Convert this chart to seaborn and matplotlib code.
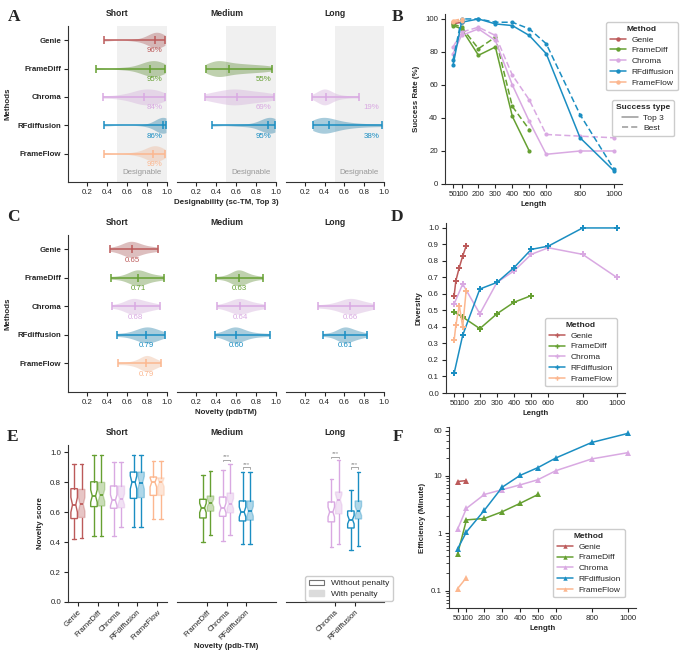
import matplotlib
matplotlib.use('Agg')
import numpy as np
import pandas as pd
import matplotlib.pyplot as plt
from matplotlib.lines import Line2D
from matplotlib.patches import Patch
from matplotlib.ticker import NullFormatter
import seaborn as sns

sns.set_theme(style='ticks')
plt.rcParams['font.family'] = ['Liberation Sans', 'DejaVu Sans']
plt.rcParams['axes.linewidth'] = 0.8

FS = 5.7    # ticks / labels
TFS = 6.2   # facet titles

# ---------------- data ----------------
methods = ['Genie', 'FrameDiff', 'Chroma', 'RFdiffusion', 'FrameFlow']
colors = {'Genie': '#BC5A5A', 'FrameDiff': '#66A032', 'Chroma': '#D9A9E2',
          'RFdiffusion': '#1B8EC2', 'FrameFlow': '#FCB78F'}
groups = ['Short', 'Medium', 'Long']

# A: designability (sc-TM, top 3) samples per group
desig_short = {
    'Genie': [0.37, 0.70, 0.79, 0.83, 0.85, 0.86, 0.87, 0.88, 0.90, 0.91, 0.92, 0.93, 0.94, 0.96, 0.98],
    'FrameDiff': [0.29, 0.55, 0.68, 0.74, 0.78, 0.80, 0.82, 0.83, 0.86, 0.88, 0.90, 0.91, 0.93, 0.95, 0.98],
    'Chroma': [0.36, 0.52, 0.60, 0.66, 0.70, 0.73, 0.75, 0.77, 0.80, 0.83, 0.86, 0.88, 0.91, 0.94, 0.98],
    'RFdiffusion': [0.37, 0.80, 0.88, 0.92, 0.94, 0.95, 0.955, 0.96, 0.965, 0.97, 0.97, 0.975, 0.98, 0.985, 0.99],
    'FrameFlow': [0.37, 0.66, 0.75, 0.79, 0.82, 0.84, 0.85, 0.86, 0.88, 0.89, 0.90, 0.92, 0.93, 0.95, 0.98],
}
desig_medium = {
    'FrameDiff': [0.30, 0.36, 0.39, 0.41, 0.42, 0.44, 0.47, 0.53, 0.58, 0.63, 0.68, 0.74, 0.81, 0.88, 0.96],
    'Chroma': [0.29, 0.36, 0.42, 0.47, 0.51, 0.55, 0.58, 0.61, 0.65, 0.69, 0.74, 0.79, 0.85, 0.91, 0.98],
    'RFdiffusion': [0.36, 0.62, 0.75, 0.83, 0.87, 0.89, 0.91, 0.92, 0.94, 0.95, 0.96, 0.97, 0.975, 0.98, 0.99],
}
desig_long = {
    'Chroma': [0.27, 0.32, 0.35, 0.37, 0.38, 0.39, 0.40, 0.41, 0.42, 0.44, 0.46, 0.49, 0.54, 0.62, 0.75],
    'RFdiffusion': [0.28, 0.31, 0.34, 0.36, 0.37, 0.39, 0.41, 0.44, 0.47, 0.51, 0.56, 0.62, 0.70, 0.82, 0.98],
}
rate_short = {'Genie': 96, 'FrameDiff': 95, 'Chroma': 84, 'RFdiffusion': 86, 'FrameFlow': 99}
rate_medium = {'FrameDiff': 55, 'Chroma': 69, 'RFdiffusion': 95}
rate_long = {'Chroma': 19, 'RFdiffusion': 38}

# C: novelty (pdbTM) samples per group
nov_short = {
    'Genie': [0.43, 0.50, 0.55, 0.58, 0.60, 0.62, 0.64, 0.65, 0.67, 0.69, 0.72, 0.75, 0.79, 0.85, 0.91],
    'FrameDiff': [0.44, 0.55, 0.61, 0.64, 0.67, 0.69, 0.70, 0.71, 0.73, 0.75, 0.78, 0.81, 0.85, 0.91, 0.97],
    'Chroma': [0.45, 0.53, 0.58, 0.61, 0.63, 0.65, 0.67, 0.68, 0.70, 0.73, 0.76, 0.79, 0.82, 0.87, 0.93],
    'RFdiffusion': [0.50, 0.60, 0.66, 0.70, 0.73, 0.75, 0.77, 0.79, 0.81, 0.83, 0.85, 0.87, 0.90, 0.94, 0.98],
    'FrameFlow': [0.51, 0.62, 0.68, 0.72, 0.75, 0.77, 0.78, 0.79, 0.80, 0.81, 0.83, 0.85, 0.87, 0.90, 0.94],
}
nov_medium = {
    'FrameDiff': [0.40, 0.49, 0.54, 0.57, 0.59, 0.61, 0.62, 0.63, 0.64, 0.66, 0.68, 0.71, 0.74, 0.79, 0.87],
    'Chroma': [0.41, 0.49, 0.53, 0.56, 0.59, 0.61, 0.63, 0.64, 0.66, 0.68, 0.71, 0.74, 0.78, 0.83, 0.89],
    'RFdiffusion': [0.39, 0.47, 0.51, 0.54, 0.56, 0.58, 0.59, 0.60, 0.62, 0.64, 0.67, 0.71, 0.76, 0.84, 0.94],
}
nov_long = {
    'Chroma': [0.33, 0.44, 0.51, 0.56, 0.59, 0.62, 0.64, 0.66, 0.68, 0.70, 0.73, 0.76, 0.80, 0.85, 0.90],
    'RFdiffusion': [0.38, 0.47, 0.52, 0.55, 0.57, 0.59, 0.60, 0.61, 0.63, 0.65, 0.67, 0.70, 0.73, 0.77, 0.83],
}

# B: success rate vs length
lengths = [50, 100, 200, 300, 400, 500, 600, 800, 1000]
succ_top3 = {
    'Genie': [97, 98],
    'FrameDiff': [96, 94, 78, 83, 41, 20],
    'Chroma': [79, 90, 94, 87, 60, 38, 18, 20, 20],
    'RFdiffusion': [72, 98, 100, 97, 96, 90, 79, 28, 8],
    'FrameFlow': [98, 99],
}
succ_best = {
    'Genie': [98, 99],
    'FrameDiff': [97, 95, 82, 89, 47, 33],
    'Chroma': [83, 92, 95, 90, 66, 51, 30, 29, 28],
    'RFdiffusion': [75, 100, 100, 98, 98, 94, 85, 42, 9],
    'FrameFlow': [99, 100],
}

# D: diversity vs length
div_len = {
    'Genie': [50, 60, 80, 100, 120],
    'FrameDiff': [50, 100, 200, 300, 400, 500],
    'Chroma': lengths,
    'RFdiffusion': lengths,
    'FrameFlow': [50, 60, 80, 100, 120],
}
diversity = {
    'Genie': [0.59, 0.68, 0.76, 0.83, 0.89],
    'FrameDiff': [0.49, 0.46, 0.39, 0.48, 0.55, 0.59],
    'Chroma': [0.54, 0.66, 0.48, 0.67, 0.74, 0.84, 0.88, 0.84, 0.70],
    'RFdiffusion': [0.12, 0.35, 0.63, 0.67, 0.76, 0.87, 0.89, 1.00, 1.00],
    'FrameFlow': [0.32, 0.41, 0.53, 0.40, 0.62],
}

# F: efficiency (minutes) vs length
efficiency = {
    'Genie': [7.9, 8.2],
    'FrameDiff': [0.43, 1.7, 1.8, 2.36, 3.3, 4.7],
    'Chroma': [1.16, 2.7, 4.7, 5.7, 6.9, 8.5, 12.2, 19.5, 25],
    'RFdiffusion': [0.53, 1.05, 2.5, 6.3, 10.1, 13.8, 20.3, 37.7, 54],
    'FrameFlow': [0.108, 0.169],
}

# E: novelty box stats (whislo, q1, med, q3, whishi)
box_raw_short = {
    'Genie': (0.424, 0.558, 0.65, 0.758, 0.92),
    'FrameDiff': (0.44, 0.638, 0.709, 0.804, 0.982),
    'Chroma': (0.442, 0.627, 0.68, 0.776, 0.938),
    'RFdiffusion': (0.502, 0.693, 0.80, 0.869, 0.984),
    'FrameFlow': (0.553, 0.713, 0.80, 0.836, 0.944),
}
box_pen_short = {
    'Genie': (0.43, 0.565, 0.653, 0.753, 0.92),
    'FrameDiff': (0.44, 0.642, 0.713, 0.80, 0.982),
    'Chroma': (0.502, 0.63, 0.687, 0.776, 0.938),
    'RFdiffusion': (0.502, 0.698, 0.798, 0.869, 0.984),
    'FrameFlow': (0.553, 0.713, 0.80, 0.83, 0.944),
}
box_raw_medium = {
    'FrameDiff': (0.40, 0.562, 0.629, 0.687, 0.851),
    'Chroma': (0.41, 0.573, 0.629, 0.702, 0.884),
    'RFdiffusion': (0.39, 0.542, 0.602, 0.676, 0.869),
}
box_pen_medium = {
    'FrameDiff': (0.445, 0.607, 0.662, 0.709, 0.876),
    'Chroma': (0.445, 0.596, 0.658, 0.729, 0.92),
    'RFdiffusion': (0.39, 0.547, 0.607, 0.676, 0.869),
}
box_raw_long = {
    'Chroma': (0.37, 0.536, 0.602, 0.669, 0.824),
    'RFdiffusion': (0.345, 0.495, 0.551, 0.609, 0.751),
}
box_pen_long = {
    'Chroma': (0.39, 0.589, 0.684, 0.736, 0.947),
    'RFdiffusion': (0.375, 0.555, 0.609, 0.676, 0.869),
}
sig_medium = {'Chroma': 0.953, 'RFdiffusion': 0.90}
sig_long = {'Chroma': 0.97, 'RFdiffusion': 0.90}

# ---------------- figure ----------------
W, H = 680, 659
fig = plt.figure(figsize=(6.8, 6.59), dpi=100)


def px_axes(left, top, right, bottom):
    return fig.add_axes([left / W, 1 - bottom / H, (right - left) / W, (bottom - top) / H])


def style_ax(ax):
    ax.tick_params(labelsize=FS, length=3, width=0.8, pad=2, colors='0.15')
    for s in ax.spines.values():
        s.set_color('0.2')


facet_x = [(68, 167), (177, 276), (286, 384)]


def violin_facet(ax, samples, first, title, labels=None):
    df = pd.DataFrame([(m, v) for m, vals in samples.items() for v in vals],
                      columns=['Method', 'value'])
    sns.violinplot(data=df, x='value', y='Method', order=methods, hue='Method',
                   palette=colors, legend=False, orient='h', cut=0, inner=None,
                   density_norm='width', width=0.56, linewidth=0, bw_adjust=0.8,
                   alpha=0.42, ax=ax)
    for m, vals in samples.items():
        i = methods.index(m)
        c = colors[m]
        lo, med, hi = np.min(vals), np.median(vals), np.max(vals)
        ax.hlines(i, lo, hi, color=c, lw=1.1)
        ax.vlines([lo, med, hi], i - 0.14, i + 0.14, color=c, lw=1.1)
        if labels is None:
            ax.text(med, i + 0.38, f'{med:.2f}', color=c, fontsize=FS, ha='center', va='center')
        else:
            ax.text(0.875, i + 0.38, f'{labels[m]}%', color=c, fontsize=FS, ha='center', va='center')
    ax.set_xlim(0.01, 1.0)
    ax.set_ylim(5.0, -0.5)
    ax.set_xticks([0.2, 0.4, 0.6, 0.8, 1.0])
    ax.set_xlabel('')
    ax.set_ylabel('')
    ax.set_title(title, fontsize=TFS, fontweight='bold', pad=7)
    style_ax(ax)
    sns.despine(ax=ax, left=not first)
    if first:
        ax.set_ylabel('Methods', fontsize=FS, fontweight='bold')
        for t in ax.get_yticklabels():
            t.set_fontweight('bold')
    else:
        ax.set_yticks([])


# ---- Panel A ----
for k, (samples, rates) in enumerate([(desig_short, rate_short), (desig_medium, rate_medium),
                                       (desig_long, rate_long)]):
    l, r = facet_x[k]
    ax = px_axes(l, 26, r, 182)
    ax.axvspan(0.5, 1.0, color='0.94', lw=0, zorder=0)
    violin_facet(ax, samples, k == 0, groups[k], labels=rates)
    ax.text(0.75, 4.68, 'Designable', color='0.6', fontsize=FS, ha='center', va='center')
fig.text(226 / W, 1 - 202 / H, 'Designability (sc-TM, Top 3)', fontsize=FS,
         fontweight='bold', ha='center', va='center')

# ---- Panel C ----
for k, samples in enumerate([nov_short, nov_medium, nov_long]):
    l, r = facet_x[k]
    ax = px_axes(l, 235, r, 392)
    violin_facet(ax, samples, k == 0, groups[k])
fig.text(226 / W, 1 - 413 / H, 'Novelty (pdbTM)', fontsize=FS,
         fontweight='bold', ha='center', va='center')


def method_handles(marker):
    return [Line2D([0], [0], color=colors[m], marker=marker, ms=3.2, lw=1.1,
                   markeredgewidth=0) for m in methods]


def long_df(xs, ys):
    rows = []
    for m in methods:
        for x, y in zip(xs[m], ys[m]):
            rows.append((m, x, y))
    return pd.DataFrame(rows, columns=['Method', 'Length', 'value'])


leg_kw = dict(fontsize=FS + 0.3, title_fontproperties={'weight': 'bold', 'size': FS + 0.3},
              handlelength=1.9, borderpad=0.45, labelspacing=0.35, framealpha=1,
              edgecolor='0.8', handletextpad=0.7)

# ---- Panel B ----
ax = px_axes(445, 14, 622, 184)
rows = []
for stype, tab in [('Top 3', succ_top3), ('Best', succ_best)]:
    for m in methods:
        for x, y in zip(lengths, tab[m]):
            rows.append((m, x, y, stype))
dfb = pd.DataFrame(rows, columns=['Method', 'Length', 'value', 'Success type'])
sns.lineplot(data=dfb, x='Length', y='value', hue='Method', hue_order=methods,
             palette=colors, style='Success type', style_order=['Top 3', 'Best'],
             dashes={'Top 3': '', 'Best': (4, 2)}, markers={'Top 3': 'o', 'Best': 'o'},
             markersize=3, markeredgewidth=0, lw=1.1, legend=False, ax=ax)
ax.set_ylim(0, 103)
ax.set_xticks(lengths)
ax.set_yticks([0, 20, 40, 60, 80, 100])
ax.set_xlabel('Length', fontsize=FS, fontweight='bold', labelpad=2)
ax.set_ylabel('Success Rate (%)', fontsize=FS, fontweight='bold')
style_ax(ax)
sns.despine(ax=ax)
lg1 = ax.legend(method_handles('o'), methods, title='Method', loc='upper left',
                bbox_to_anchor=(602 / W, 1 - 18 / H), bbox_transform=fig.transFigure, **leg_kw)
ax.add_artist(lg1)
ax.legend([Line2D([0], [0], color='0.6', lw=1.1),
           Line2D([0], [0], color='0.6', lw=1.1, dashes=(4, 2))],
          ['Top 3', 'Best'], title='Success type', loc='upper left',
          bbox_to_anchor=(608 / W, 1 - 96 / H), bbox_transform=fig.transFigure, **leg_kw)

# ---- Panel D ----
ax = px_axes(446, 223, 625, 393)
dfd = long_df(div_len, diversity)
sns.lineplot(data=dfd, x='Length', y='value', hue='Method', hue_order=methods,
             palette=colors, marker='P', markersize=4.2, markeredgewidth=0, lw=1.1,
             legend=False, ax=ax)
ax.set_ylim(0, 1.03)
ax.set_xticks(lengths)
ax.set_yticks(np.round(np.arange(0, 1.01, 0.1), 1))
ax.set_xlabel('Length', fontsize=FS, fontweight='bold', labelpad=2)
ax.set_ylabel('Diversity', fontsize=FS, fontweight='bold')
style_ax(ax)
sns.despine(ax=ax)
ax.legend(method_handles('P'), methods, title='Method', loc='upper left',
          bbox_to_anchor=(541 / W, 1 - 314 / H), bbox_transform=fig.transFigure, **leg_kw)

# ---- Panel F ----
ax = px_axes(449, 427, 636, 608)
eff_len = {m: lengths[:len(efficiency[m])] for m in methods}
dff = long_df(eff_len, efficiency)
sns.lineplot(data=dff, x='Length', y='value', hue='Method', hue_order=methods,
             palette=colors, marker='^', markersize=4, markeredgewidth=0, lw=1.1,
             legend=False, ax=ax)
ax.set_yscale('log')
ax.set_ylim(0.05, 70)
ax.set_yticks([0.1, 1, 10, 60])
ax.set_yticklabels(['0.1', '1', '10', '60'])
ax.yaxis.set_minor_formatter(NullFormatter())
ax.set_xticks(lengths)
ax.set_xlabel('Length', fontsize=FS, fontweight='bold', labelpad=2)
ax.set_ylabel('Efficiency (Minute)', fontsize=FS, fontweight='bold')
style_ax(ax)
ax.tick_params(which='minor', length=2, width=0.6)
sns.despine(ax=ax)
ax.legend(method_handles('^'), methods, title='Method', loc='upper left',
          bbox_to_anchor=(549 / W, 1 - 525 / H), bbox_transform=fig.transFigure, **leg_kw)

# ---- Panel E ----
def box_stats(t):
    lo, q1, med, q3, hi = t
    notch = 0.25 * (q3 - q1)
    return dict(whislo=lo, q1=q1, med=med, q3=q3, whishi=hi,
                cilo=med - notch, cihi=med + notch, fliers=[])


box_sets = [(box_raw_short, box_pen_short, {}), (box_raw_medium, box_pen_medium, sig_medium),
            (box_raw_long, box_pen_long, sig_long)]
for k, (raw, pen, sig) in enumerate(box_sets):
    l, r = facet_x[k]
    ax = px_axes(l, 445, r, 602)
    for m in raw:
        i = methods.index(m)
        c = colors[m]
        for stats, dx, fill in [(raw[m], -0.19, False), (pen[m], 0.19, True)]:
            fc = matplotlib.colors.to_rgba(c, 0.35) if fill else 'white'
            ec = matplotlib.colors.to_rgba(c, 0.35) if fill else c
            ax.bxp([box_stats(stats)], positions=[i + dx], widths=0.33, shownotches=True,
                   patch_artist=True, showfliers=False, capwidths=0.18,
                   boxprops=dict(facecolor=fc, edgecolor=ec, linewidth=1.0),
                   whiskerprops=dict(color=c, lw=1.0), capprops=dict(color=c, lw=1.0),
                   medianprops=dict(color=c, lw=1.3))
        if m in sig:
            y = sig[m]
            ax.plot([i - 0.19, i - 0.19, i + 0.19, i + 0.19], [y - 0.008, y, y, y - 0.008],
                    color='0.6', lw=0.6)
            ax.text(i, y + 0.004, '***', color='0.55', fontsize=4.5, ha='center', va='bottom')
    ax.set_xlim(-0.5, 4.5)
    ax.set_ylim(0, 1.05)
    present = [methods.index(m) for m in raw]
    ax.set_xticks(present)
    ax.set_xticklabels(list(raw.keys()), rotation=45, ha='right', rotation_mode='anchor')
    ax.set_title(groups[k], fontsize=TFS, fontweight='bold', pad=7)
    style_ax(ax)
    sns.despine(ax=ax, left=k > 0)
    if k == 0:
        ax.set_yticks([0, 0.2, 0.4, 0.6, 0.8, 1.0])
        ax.set_ylabel('Novelty score', fontsize=FS, fontweight='bold')
    else:
        ax.set_yticks([])
    if k == 2:
        ax.legend([Patch(facecolor='white', edgecolor='0.45', lw=0.8),
                   Patch(facecolor='0.86', edgecolor='0.86')],
                  ['Without penalty', 'With penalty'], loc='upper left',
                  bbox_to_anchor=(301 / W, 1 - 572 / H), bbox_transform=fig.transFigure,
                  fontsize=FS + 0.3, handlelength=1.9, borderpad=0.4, labelspacing=0.3,
                  framealpha=1, edgecolor='0.8')
fig.text(226 / W, 1 - 647 / H, 'Novelty (pdb-TM)', fontsize=FS,
         fontweight='bold', ha='center', va='center')

# panel letters
for letter, x, y in [('A', 8, 17), ('B', 392, 17), ('C', 7, 217), ('D', 391, 217),
                     ('E', 7, 437), ('F', 393, 437)]:
    fig.text(x / W, 1 - y / H, letter, fontsize=12.5, fontweight='bold',
             family='Liberation Serif', ha='left', va='center')

fig.savefig('out.png', dpi=100)
